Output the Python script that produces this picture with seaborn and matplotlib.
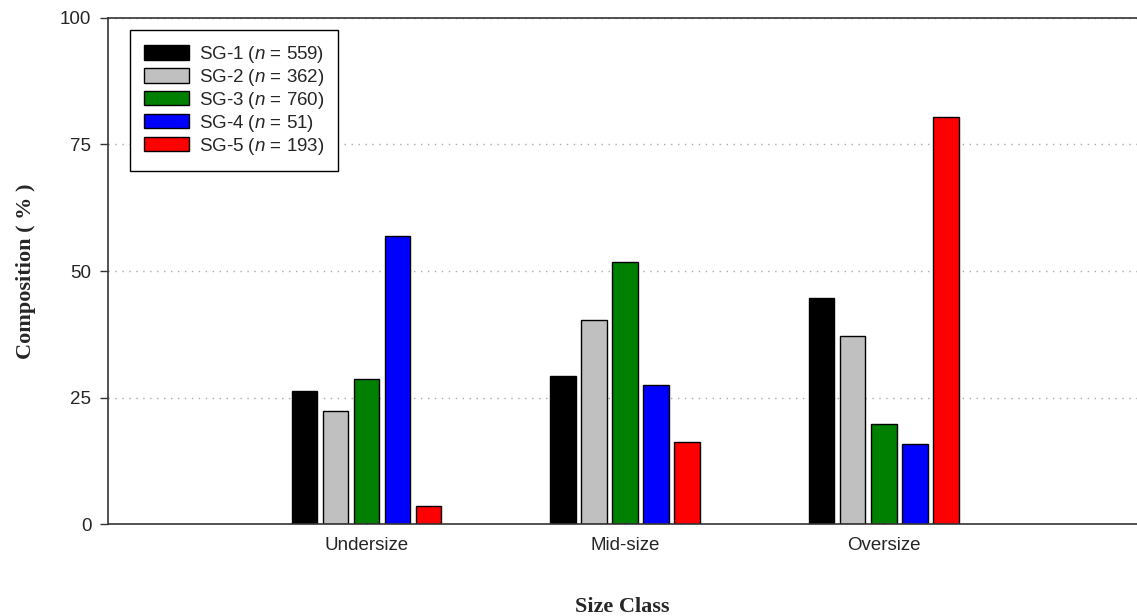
import pandas as pd
import seaborn as sns
import matplotlib.pyplot as plt

# values
size_classes = ["Undersize", "Mid-size", "Oversize"]
groups = ["SG-1", "SG-2", "SG-3", "SG-4", "SG-5"]
group_n = [559, 362, 760, 51, 193]
sg1 = [26.3, 29.2, 44.7]
sg2 = [22.4, 40.4, 37.2]
sg3 = [28.6, 51.8, 19.8]
sg4 = [56.9, 27.5, 15.8]
sg5 = [3.6, 16.2, 80.4]
colors = ["#000000", "#c0c0c0", "#008000", "#0000ff", "#ff0000"]

sns.set_style("white")
plt.rcParams["font.family"] = ["Liberation Sans", "DejaVu Sans"]
plt.rcParams["mathtext.fontset"] = "custom"
plt.rcParams["mathtext.rm"] = "Liberation Sans"
plt.rcParams["mathtext.it"] = "Liberation Sans:italic"

rows = []
for g, vals in zip(groups, [sg1, sg2, sg3, sg4, sg5]):
    for c, v in zip(size_classes, vals):
        rows.append({"Size Class": c, "group": g, "value": v})
df = pd.DataFrame(rows)

fig = plt.figure(figsize=(11.37, 6.16), dpi=100)
ax = fig.add_axes([0.095, 0.149, 0.905, 0.822])

sns.barplot(data=df, x="Size Class", y="value", hue="group", order=size_classes,
            hue_order=groups, palette=colors, width=0.6, gap=0.17,
            edgecolor="black", linewidth=1, saturation=1, ax=ax)

ax.set_xlim(-1, 2.98)
ax.set_ylim(0, 100)
ax.set_yticks([0, 25, 50, 75, 100])
ax.yaxis.grid(True, linestyle=(0, (1, 4)), color="#aaaaaa", linewidth=1)
ax.set_axisbelow(True)

for s in ["left", "top", "bottom"]:
    ax.spines[s].set_color("#333333")
    ax.spines[s].set_linewidth(1.2)
ax.spines["right"].set_visible(False)

ax.tick_params(axis="y", direction="out", length=6, width=1, color="#333333",
               labelsize=13.5, pad=6, left=True)
ax.tick_params(axis="x", direction="in", length=3, width=1, color="#333333",
               labelsize=13.5, pad=9, bottom=True)

ax.set_xlabel("Size Class", family="Liberation Serif", fontweight="bold",
              fontsize=16, labelpad=31)
ax.set_ylabel("Composition ( % )", family="Liberation Serif", fontweight="bold",
              fontsize=16, labelpad=17)

handles, _ = ax.get_legend_handles_labels()
labels = [f"{g} ($n$ = {n})" for g, n in zip(groups, group_n)]
leg = ax.legend(handles, labels, loc="upper left", bbox_to_anchor=(0.021, 0.976),
                borderaxespad=0, fancybox=False, edgecolor="black", fontsize=13.5,
                handlelength=2.4, handleheight=0.8, labelspacing=0.1,
                borderpad=0.75, handletextpad=0.55, framealpha=1)
leg.get_frame().set_linewidth(1)

fig.savefig("out.png", dpi=100)
